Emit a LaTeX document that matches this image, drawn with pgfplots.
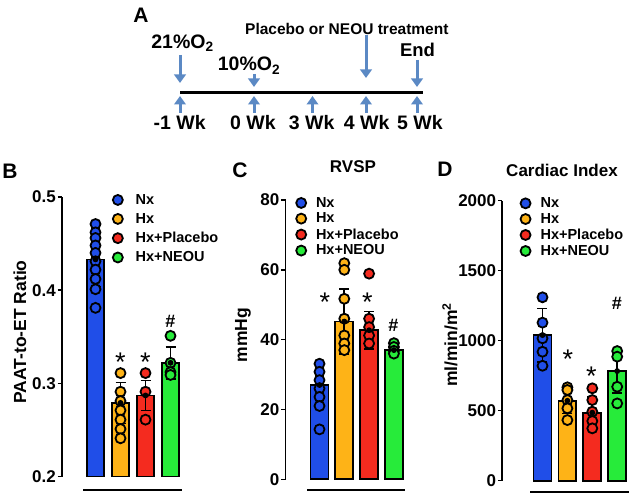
\documentclass[border=0pt]{standalone}
\usepackage{pgfplots}
\pgfplotsset{compat=1.18}
\usepackage{fontspec}
\setmainfont{Liberation Sans}
\usetikzlibrary{arrows.meta}
\definecolor{cNx}{RGB}{32,78,232}
\definecolor{cHx}{RGB}{254,179,23}
\definecolor{cPl}{RGB}{244,43,31}
\definecolor{cNe}{RGB}{39,235,58}
\definecolor{arr}{RGB}{91,137,196}
\newcommand{\fs}[1]{\fontsize{#1}{#1}\selectfont\bfseries}
\tikzset{
  sigstar/.style={font=\fontsize{27}{27}\selectfont, anchor=center, yshift=-6.1pt, inner sep=0pt},
  sighash/.style={font=\fs{18}, anchor=center, inner sep=0pt},
}
\pgfplotsset{
  panel/.style={
    scale only axis,
    axis x line=none,
    axis y line*=left,
    axis line style={line width=1.8pt, black},
    tick align=outside,
    major tick length=4.5pt,
    ytick style={line width=1.5pt, black},
    xtick=\empty,
    tick label style={font=\fs{17}},
    yticklabel style={inner sep=1.5pt},
    /pgf/number format/assume math mode=true,
    /pgf/number format/1000 sep={},
    scaled y ticks=false,
    label style={font=\fs{17.5}},
    legend cell align=left,
    legend style={draw=none, fill=none, font=\fs{14.5}, anchor=north west,
      inner sep=0pt, outer sep=0pt, nodes={inner sep=0pt, anchor=west}},
  },
  bars/.style={ybar, bar width=#1, bar shift=0pt, draw=black, line width=1.8pt, forget plot},
  dots/.style={only marks, mark=*, mark size=5pt,
    mark options={draw=black, line width=1.8pt, fill=#1},
    legend image code/.code={\draw[##1] plot coordinates {(0pt,0pt)};}},
  errs/.style={black, line width=1.7pt, only marks, mark=none, forget plot,
    error bars/.cd, y dir=both, y explicit,
    error bar style={line width=1.7pt, black},
    error mark options={rotate=90, mark size=5pt, line width=1.7pt, black}},
}
\begin{document}
\begin{tikzpicture}
\useasboundingbox (0pt,0pt) rectangle (629pt,-502pt);
\begin{scope}[x=1pt,y=-1pt]
  % ---- Panel A: timeline ----
  \node[font=\fs{21}, anchor=center] at (141,15) {A};
  \draw[line width=3pt] (180,92.7) -- (423,92.7);
  \tikzset{tl/.style={arr, line width=3pt, -{Triangle[length=8.5pt,width=11.5pt]}}}
  \foreach \xx in {180,254,312.5,366,417} \draw[tl] (\xx,113) -- (\xx,96);
  \draw[tl] (180,55) -- (180,83);
  \draw[tl] (254,74) -- (254,87);
  \draw[tl] (366,35) -- (366,78);
  \draw[tl] (417,60) -- (417,87);
  \node[font=\fs{19.5}, anchor=base] at (182.5,48.7) {21\%O\textsubscript{2}};
  \node[font=\fs{19.5}, anchor=base] at (249,71) {10\%O\textsubscript{2}};
  \node[font=\fs{15.5}, anchor=base west, inner sep=0pt] at (245,34.5) {Placebo or NEOU treatment};
  \node[font=\fs{18.5}, anchor=base] at (417.5,56.6) {End};
  \node[font=\fs{19.5}, anchor=base] at (179.7,129.5) {-1 Wk};
  \node[font=\fs{19.5}, anchor=base] at (253,129.5) {0 Wk};
  \node[font=\fs{19.5}, anchor=base] at (311.7,129.5) {3 Wk};
  \node[font=\fs{19.5}, anchor=base] at (366.7,129.5) {4 Wk};
  \node[font=\fs{19.5}, anchor=base] at (420,129.5) {5 Wk};
  % panel letters
  \node[font=\fs{21}, anchor=center] at (10,171) {B};
  \node[font=\fs{21}, anchor=center] at (240,170) {C};
  \node[font=\fs{21}, anchor=center] at (445,169.5) {D};
  % group lines under bars
  \draw[line width=2pt] (83,490) -- (182,490);
  \draw[line width=2pt] (307,490) -- (405,490);
  \draw[line width=2pt] (530,492) -- (629,492);
\end{scope}

% ---- Panel B ----
\begin{axis}[panel, at={(62pt,-476.5pt)}, anchor=south west,
  width=124pt, height=279.5pt, xmin=-0.34, xmax=4.62, ymin=0.2, ymax=0.5,
  ytick={0.2,0.3,0.4,0.5},
  yticklabel style={/pgf/number format/fixed, /pgf/number format/precision=1},
  ylabel={PAAT-to-ET Ratio},
  ylabel style={at={(axis description cs:-0.339,0.517)}, anchor=center},
  legend style={at={(axis description cs:0.41,1.01)}, row sep=7.5pt, column sep=12.8pt},
]
\addplot[bars=0.7, fill=cNx] coordinates {(1,0.433)};
\addplot[bars=0.7, fill=cHx] coordinates {(2,0.279)};
\addplot[bars=0.7, fill=cPl] coordinates {(3,0.287)};
\addplot[bars=0.7, fill=cNe] coordinates {(4,0.322)};
\addplot[dots=cNx] coordinates {(1,0.471) (1,0.462) (1,0.456) (1,0.448) (1,0.440) (1,0.431) (1,0.422) (1,0.412) (1,0.401) (1,0.381)};
\addplot[dots=cHx] coordinates {(2,0.311) (2,0.291) (2,0.281) (2,0.271) (2,0.261) (2,0.251) (2,0.241)};
\addplot[dots=cPl] coordinates {(3,0.311) (3,0.291) (3,0.261)};
\addplot[dots=cNe] coordinates {(4,0.351) (4,0.322) (4,0.312) (4,0.309)};
\addplot[errs] coordinates {(1,0.433) +- (0,0.029) (2,0.279) +- (0,0.022) (3,0.287) +- (0,0.016) (4,0.322) +- (0,0.017)};
\legend{Nx,Hx,Hx+Placebo,Hx+NEOU}
\node[sigstar] at (axis cs:2,0.329) {*};
\node[sigstar] at (axis cs:3,0.329) {*};
\node[sighash] at (axis cs:4,0.366) {\#};
\end{axis}

% ---- Panel C ----
\begin{axis}[panel, at={(285.5pt,-479.3pt)}, anchor=south west, clip=false,
  width=124.5pt, height=279.3pt, xmin=-0.371, xmax=4.649, ymin=0, ymax=80,
  ytick={0,20,40,60,80},
  ylabel={mmHg},
  ylabel style={at={(axis description cs:-0.341,0.517)}, anchor=center},
  title={RVSP},
  title style={at={(axis description cs:0.542,1.098)}, anchor=center, font=\fs{17}, inner sep=0pt},
  legend style={at={(axis description cs:0.086,1.01)}, row sep=4.2pt, column sep=9.8pt},
]
\addplot[bars=0.72, fill=cNx] coordinates {(1,27.0)};
\addplot[bars=0.72, fill=cHx] coordinates {(2,45.2)};
\addplot[bars=0.72, fill=cPl] coordinates {(3,42.7)};
\addplot[bars=0.72, fill=cNe] coordinates {(4,37.0)};
\addplot[dots=cNx] coordinates {(1,33.1) (1,30.8) (1,28.4) (1,26.0) (1,23.6) (1,21.0) (1,14.3)};
\addplot[dots=cHx] coordinates {(2,61.9) (2,60.0) (2,51.7) (2,46.0) (2,41.2) (2,38.9) (2,37.0)};
\addplot[dots=cPl] coordinates {(3,58.9) (3,46.0) (3,43.6) (3,41.2) (3,38.9)};
\addplot[dots=cNe] coordinates {(4,39.0) (4,37.9) (4,36.8) (4,36.0)};
\addplot[errs] coordinates {(1,27.0) +- (0,3.8) (2,45.2) +- (0,9.3) (3,42.7) +- (0,5.4) (4,37.0) +- (0,1.5)};
\legend{Nx,Hx,Hx+Placebo,Hx+NEOU}
\node[sigstar] at (axis cs:1.22,52.4) {*};
\node[sigstar] at (axis cs:2.93,52.4) {*};
\node[sighash] at (axis cs:3.98,44.1) {\#};
\end{axis}

% ---- Panel D ----
\begin{axis}[panel, at={(502.3pt,-480.7pt)}, anchor=south west, clip=false,
  width=126.7pt, height=280pt, xmin=-0.614, xmax=4.474, ymin=0, ymax=2000,
  ytick={0,500,1000,1500,2000},
  ylabel={ml/min/m\textsuperscript{2}},
  ylabel style={at={(axis description cs:-0.413,0.485)}, anchor=center},
  title={Cardiac Index},
  title style={at={(axis description cs:0.471,1.086)}, anchor=center, font=\fs{17}, inner sep=0pt},
  legend style={at={(axis description cs:0.144,1.011)}, row sep=4.2pt, column sep=10pt},
]
\addplot[bars=0.72, fill=cNx] coordinates {(1,1040)};
\addplot[bars=0.72, fill=cHx] coordinates {(2,571)};
\addplot[bars=0.72, fill=cPl] coordinates {(3,486)};
\addplot[bars=0.72, fill=cNe] coordinates {(4,783)};
\addplot[dots=cNx] coordinates {(1,1310) (1,1129) (1,1017) (1,921) (1,821)};
\addplot[dots=cHx] coordinates {(2,667) (2,648) (2,576) (2,517) (2,433)};
\addplot[dots=cPl] coordinates {(3,660) (3,576) (3,493) (3,426) (3,374)};
\addplot[dots=cNe] coordinates {(4,926) (4,886) (4,671) (4,552)};
\addplot[errs] coordinates {(1,1040) +- (0,191) (2,571) +- (0,90) (3,486) +- (0,110) (4,783) +- (0,155)};
\legend{Nx,Hx,Hx+Placebo,Hx+NEOU}
\node[sigstar] at (axis cs:2.02,910) {*};
\node[sigstar] at (axis cs:2.96,790) {*};
\node[sighash] at (axis cs:3.99,1267) {\#};
\end{axis}
\end{tikzpicture}
\end{document}
